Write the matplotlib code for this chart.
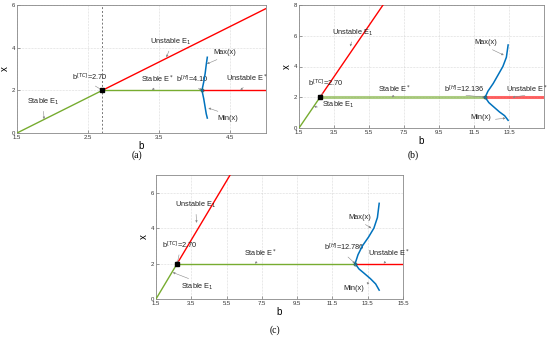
import matplotlib
matplotlib.use("Agg")
import matplotlib.pyplot as plt

# ---- data ----
B_TC = 2.70
B_HOPF = [4.10, 12.136, 12.786]          # panels a, b, c
E1_SLOPE = 5.0 / 3.0                      # x = slope * (b - 1.5)
X_STAR = 2.0

XLIMS = [(1.5, 5.0), (1.5, 15.5), (1.5, 15.5)]
YLIMS = [(0, 6), (0, 8), (0, 7)]
XTICKS = [[1.5, 2.5, 3.5, 4.5],
          [1.5, 3.5, 5.5, 7.5, 9.5, 11.5, 13.5],
          [1.5, 3.5, 5.5, 7.5, 9.5, 11.5, 13.5, 15.5]]
YTICKS = [[0, 2, 4, 6], [0, 2, 4, 6, 8], [0, 2, 4, 6]]

# limit cycle branches (b, x)
max_b_a = [4.10, 4.125, 4.145, 4.16, 4.175]
max_x_a = [2.0, 2.4, 2.8, 3.2, 3.55]
min_b_a = [4.10, 4.125, 4.145, 4.16, 4.175]
min_x_a = [2.0, 1.6, 1.2, 0.9, 0.7]

max_b_b = [12.136, 12.3, 12.6, 12.9, 13.15, 13.35, 13.45]
max_x_b = [2.0, 2.4, 2.9, 3.5, 4.0, 4.6, 5.4]
min_b_b = [12.136, 12.35, 12.65, 12.95, 13.25, 13.45]
min_x_b = [2.0, 1.65, 1.35, 1.05, 0.8, 0.5]

max_b_c = [12.786, 12.95, 13.2, 13.55, 13.85, 14.05, 14.15]
max_x_c = [2.0, 2.5, 3.0, 3.5, 4.0, 4.6, 5.4]
min_b_c = [12.786, 13.0, 13.3, 13.65, 13.95, 14.15]
min_x_c = [2.0, 1.7, 1.45, 1.15, 0.85, 0.5]

# annotations: (text, text left/centre position, arrow target)
NOTES_A = [
    ("Stable E$_1$", (1.64, 1.45), (1.88, 0.65)),
    ("b$^{[TC]}$=2.70", (2.27, 2.63), (2.7, 2.0)),
    ("Unstable E$_1$", (3.37, 4.27), (3.6, 3.55)),
    ("Stable E$^*$", (3.24, 2.53), (3.4, 2.0)),
    ("b$^{[H]}$=4.10", (3.74, 2.53), (4.1, 2.0)),
    ("Max(x)", (4.26, 3.76), (4.17, 3.24)),
    ("Min(x)", (4.31, 0.7), (4.19, 1.17)),
    ("Unstable E$^*$", (4.44, 2.58), (4.64, 2.0)),
]
NOTES_B = [
    ("Unstable E$_1$", (3.4, 6.2), (4.43, 5.3)),
    ("b$^{[TC]}$=2.70", (2.0, 2.9), (2.7, 2.0)),
    ("Stable E$_1$", (2.8, 1.5), (2.35, 1.4)),
    ("Stable E$^*$", (6.0, 2.5), (6.8, 2.0)),
    ("b$^{[H]}$=12.136", (9.8, 2.5), (12.136, 2.0)),
    ("Unstable E$^*$", (13.3, 2.5), (13.7, 2.0)),
    ("Max(x)", (11.5, 5.54), (13.2, 4.74)),
    ("Min(x)", (11.3, 0.69), (13.3, 0.64)),
]
NOTES_C = [
    ("Unstable E$_1$", (2.6, 5.3), (3.8, 4.3)),
    ("b$^{[TC]}$=2.70", (1.85, 3.05), (2.7, 2.0)),
    ("Stable E$_1$", (2.9, 0.68), (2.45, 1.5)),
    ("Stable E$^*$", (6.5, 2.6), (7.1, 2.0)),
    ("b$^{[H]}$=12.786", (11.0, 2.9), (12.786, 2.0)),
    ("Unstable E$^*$", (13.5, 2.6), (14.4, 2.0)),
    ("Max(x)", (12.4, 4.6), (13.7, 4.0)),
    ("Min(x)", (12.1, 0.62), (13.6, 0.9)),
]

GREEN = "#77ac30"
RED = "#ff0000"
BLUE = "#0072bd"

plt.rcParams["font.family"] = ["Liberation Sans", "DejaVu Sans"]


def draw_panel(ax, i, max_b, max_x, min_b, min_x, notes, thick=False):
    x0, x1 = XLIMS[i]
    y0, y1 = YLIMS[i]
    bh = B_HOPF[i]
    # E1 branch: stable below TC, unstable above
    b_top = min(x1, x0 + y1 / E1_SLOPE)
    ax.plot([x0, B_TC], [0, E1_SLOPE * (B_TC - x0)], color=GREEN, lw=1.0, zorder=3)
    ax.plot([B_TC, b_top], [E1_SLOPE * (B_TC - x0), E1_SLOPE * (b_top - x0)],
            color=RED, lw=1.0, zorder=3)
    lw_star = 2.2 if thick else 1.0
    alpha = 0.6 if thick else 1.0
    ax.plot([B_TC, bh], [X_STAR, X_STAR], color=GREEN, lw=lw_star, alpha=alpha, zorder=3)
    ax.plot([bh, x1], [X_STAR, X_STAR], color=RED, lw=lw_star, alpha=alpha, zorder=3)
    ax.plot(max_b, max_x, color=BLUE, lw=1.1, zorder=4)
    ax.plot(min_b, min_x, color=BLUE, lw=1.1, zorder=4)
    ax.plot([B_TC], [X_STAR], "s", ms=2.2, color="black", zorder=5)
    ax.plot([bh], [X_STAR], "o", ms=2.2, mfc="none", mec="#226666", mew=0.6, zorder=5)

    for txt, xy_text, xy in notes:
        # arrow leaves from the text edge facing the target
        rel_y = 0.0 if xy[1] < xy_text[1] else 1.0
        ax.annotate(txt, xy=xy, xytext=xy_text, fontsize=5.3, color="#222222",
                    va="center", ha="left",
                    arrowprops=dict(arrowstyle="-|>", color="#888888", lw=0.4,
                                    mutation_scale=3, shrinkA=1, shrinkB=0,
                                    relpos=(0.5, rel_y)))

    ax.set_xlim(x0, x1)
    ax.set_ylim(y0, y1)
    ax.set_xticks(XTICKS[i])
    ax.set_yticks(YTICKS[i])
    ax.set_xticklabels([f"{t:g}" for t in XTICKS[i]])
    ax.tick_params(direction="in", labelsize=4.3, length=2, width=0.4,
                   colors="#555555", labelcolor="#333333", pad=1.5)
    ax.grid(True, ls=":", lw=0.4, color="#bbbbbb")
    for s in ax.spines.values():
        s.set_color("#888888")
        s.set_linewidth(0.6)
    ax.set_xlabel("b", fontsize=7, labelpad=1)
    ax.set_ylabel("x", fontsize=7, labelpad=1)


fig = plt.figure(figsize=(5.5, 3.4), dpi=100)
W, H = 550.0, 340.0


def px_axes(left, top, right, bottom):
    return fig.add_axes([left / W, 1 - bottom / H, (right - left) / W, (bottom - top) / H])


ax_a = px_axes(17, 5, 266, 133)
ax_b = px_axes(299, 5, 544, 128)
ax_c = px_axes(156, 175, 403, 299)

draw_panel(ax_a, 0, max_b_a, max_x_a, min_b_a, min_x_a, NOTES_A)
ax_a.axvline(B_TC, color="#777777", ls=(0, (2, 2)), lw=0.7, zorder=2)
draw_panel(ax_b, 1, max_b_b, max_x_b, min_b_b, min_x_b, NOTES_B, thick=True)
draw_panel(ax_c, 2, max_b_c, max_x_c, min_b_c, min_x_c, NOTES_C)

for lab, (px, py) in [("(a)", (137, 155)), ("(b)", (413, 155)), ("(c)", (275, 330))]:
    fig.text(px / W, 1 - py / H, lab, ha="center", va="center", fontsize=7,
             family=["Liberation Serif", "DejaVu Serif"])

fig.savefig("out.png", dpi=100)
